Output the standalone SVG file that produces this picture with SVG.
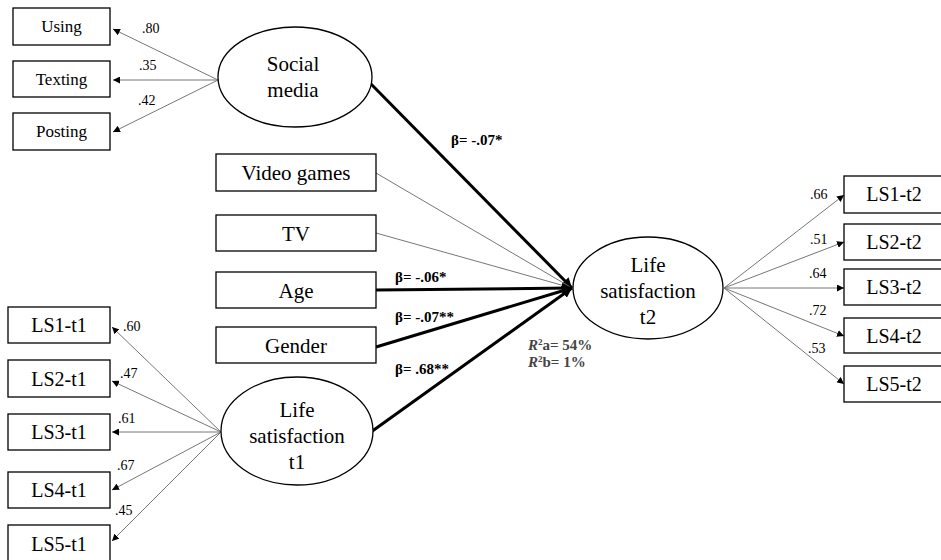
<svg xmlns="http://www.w3.org/2000/svg" width="941" height="560" viewBox="0 0 941 560">
<style>
.box{fill:#fff;stroke:#000;stroke-width:1.3}
.ell{fill:#fff;stroke:#000;stroke-width:1.3}
text{font-family:"Liberation Serif","Times New Roman",Times,"Nimbus Roman","Noto Serif","DejaVu Serif",Georgia,serif}
.t{fill:#000;text-anchor:middle}
.s17{font-size:17px}
.s20{font-size:20px}
.s21{font-size:21px}
.num{font-size:14px;fill:#000}
.beta{font-size:15px;font-weight:bold;fill:#000}
.r2{font-size:15px;font-weight:bold;fill:#444}
.thin{stroke:#777;stroke-width:1;fill:none}
.thick{stroke:#000;stroke-width:3;fill:none}
</style>
<defs>
<marker id="ah" viewBox="0 0 10 10" refX="10" refY="5" markerWidth="7" markerHeight="7" markerUnits="userSpaceOnUse" orient="auto">
<path d="M0,0 L10,5 L0,10 z" fill="#000"/>
</marker>
<marker id="ahb" viewBox="0 0 10 10" refX="10" refY="5" markerWidth="10" markerHeight="10" markerUnits="userSpaceOnUse" orient="auto">
<path d="M0,0 L10,5 L0,10 z" fill="#000"/>
</marker>
</defs>
<rect width="941" height="560" fill="#fff"/>
<g id="connectors">
<line class="thin" x1="218" y1="80" x2="113" y2="29" marker-end="url(#ah)"/>
<line class="thin" x1="218" y1="80" x2="113" y2="80" marker-end="url(#ah)"/>
<line class="thin" x1="218" y1="80" x2="113" y2="132" marker-end="url(#ah)"/>
<line class="thick" x1="371" y1="84" x2="572" y2="288" marker-end="url(#ahb)"/>
<line class="thin" x1="376" y1="173" x2="572" y2="288"/>
<line class="thin" x1="376" y1="233" x2="572" y2="288"/>
<line class="thick" x1="376" y1="290" x2="572" y2="288" marker-end="url(#ahb)"/>
<line class="thick" x1="376" y1="347" x2="572" y2="288" marker-end="url(#ahb)"/>
<line class="thick" x1="371" y1="432" x2="572" y2="288" marker-end="url(#ahb)"/>
<line class="thin" x1="724" y1="288" x2="844" y2="195" marker-end="url(#ah)"/>
<line class="thin" x1="724" y1="288" x2="844" y2="242" marker-end="url(#ah)"/>
<line class="thin" x1="724" y1="288" x2="844" y2="288" marker-end="url(#ah)"/>
<line class="thin" x1="724" y1="288" x2="844" y2="336" marker-end="url(#ah)"/>
<line class="thin" x1="724" y1="288" x2="844" y2="384" marker-end="url(#ah)"/>
<line class="thin" x1="221" y1="432" x2="112" y2="327" marker-end="url(#ah)"/>
<line class="thin" x1="221" y1="432" x2="112" y2="381" marker-end="url(#ah)"/>
<line class="thin" x1="221" y1="432" x2="112" y2="432" marker-end="url(#ah)"/>
<line class="thin" x1="221" y1="432" x2="112" y2="490" marker-end="url(#ah)"/>
<line class="thin" x1="221" y1="432" x2="112" y2="541" marker-end="url(#ah)"/>
</g>
<g id="labels">
<text class="num" x="142" y="33">.80</text>
<text class="num" x="139" y="70">.35</text>
<text class="num" x="138" y="105">.42</text>
<text class="num" x="123" y="331">.60</text>
<text class="num" x="120" y="378">.47</text>
<text class="num" x="118" y="423">.61</text>
<text class="num" x="117" y="470">.67</text>
<text class="num" x="115" y="515">.45</text>
<text class="num" x="810" y="199">.66</text>
<text class="num" x="810" y="244">.51</text>
<text class="num" x="809" y="278">.64</text>
<text class="num" x="809" y="315">.72</text>
<text class="num" x="808" y="353">.53</text>
<text class="beta" x="451" y="145">β= -.07*</text>
<text class="beta" x="395" y="282">β= -.06*</text>
<text class="beta" x="395" y="322">β= -.07**</text>
<text class="beta" x="395" y="374">β= .68**</text>
<text class="r2" x="528" y="350"><tspan font-style="italic">R</tspan><tspan font-size="9" dy="-5">2</tspan><tspan dy="5">a= 54%</tspan></text>
<text class="r2" x="528" y="367"><tspan font-style="italic">R</tspan><tspan font-size="9" dy="-5">2</tspan><tspan dy="5">b= 1%</tspan></text>
</g>
<g id="using"><rect class="box" x="13" y="8" width="97" height="37"/><text class="t s17" x="61.5" y="32">Using</text></g>
<g id="texting"><rect class="box" x="13" y="61" width="97" height="36"/><text class="t s17" x="61.5" y="85">Texting</text></g>
<g id="posting"><rect class="box" x="13" y="113" width="97" height="37"/><text class="t s17" x="61.5" y="137">Posting</text></g>
<g id="social-media"><ellipse class="ell" cx="295" cy="77" rx="77" ry="50"/><text class="t s21" x="293" y="71">Social</text><text class="t s21" x="293" y="97">media</text></g>
<g id="video-games"><rect class="box" x="216" y="154" width="160" height="37"/><text class="t s21" x="296" y="180">Video games</text></g>
<g id="tv"><rect class="box" x="216" y="215" width="160" height="36"/><text class="t s21" x="296" y="241">TV</text></g>
<g id="age"><rect class="box" x="216" y="272" width="160" height="36"/><text class="t s21" x="296" y="298">Age</text></g>
<g id="gender"><rect class="box" x="216" y="327" width="160" height="36"/><text class="t s21" x="296" y="353">Gender</text></g>
<g id="ls-t1"><ellipse class="ell" cx="297" cy="431" rx="76" ry="54"/><text class="t s21" x="297" y="417">Life</text><text class="t s21" x="297" y="443">satisfaction</text><text class="t s21" x="297" y="469">t1</text></g>
<g id="ls-t2"><ellipse class="ell" cx="648" cy="288" rx="75" ry="51"/><text class="t s21" x="648" y="272">Life</text><text class="t s21" x="648" y="298">satisfaction</text><text class="t s21" x="648" y="324">t2</text></g>
<g id="ls1-t1"><rect class="box" x="8" y="307" width="102" height="36"/><text class="t s20" x="59" y="332">LS1-t1</text></g>
<g id="ls2-t1"><rect class="box" x="8" y="360" width="102" height="37"/><text class="t s20" x="59" y="386">LS2-t1</text></g>
<g id="ls3-t1"><rect class="box" x="8" y="414" width="102" height="36"/><text class="t s20" x="59" y="439">LS3-t1</text></g>
<g id="ls4-t1"><rect class="box" x="8" y="472" width="102" height="36"/><text class="t s20" x="59" y="497">LS4-t1</text></g>
<g id="ls5-t1"><rect class="box" x="8" y="525" width="102" height="40"/><text class="t s20" x="59" y="551">LS5-t1</text></g>
<g id="ls1-t2"><rect class="box" x="844" y="176" width="100" height="37"/><text class="t s20" x="894" y="201">LS1-t2</text></g>
<g id="ls2-t2"><rect class="box" x="844" y="224" width="100" height="36"/><text class="t s20" x="894" y="249">LS2-t2</text></g>
<g id="ls3-t2"><rect class="box" x="844" y="269" width="100" height="36"/><text class="t s20" x="894" y="294">LS3-t2</text></g>
<g id="ls4-t2"><rect class="box" x="844" y="318" width="100" height="35"/><text class="t s20" x="894" y="343">LS4-t2</text></g>
<g id="ls5-t2"><rect class="box" x="844" y="366" width="100" height="36"/><text class="t s20" x="894" y="391">LS5-t2</text></g>
</svg>
